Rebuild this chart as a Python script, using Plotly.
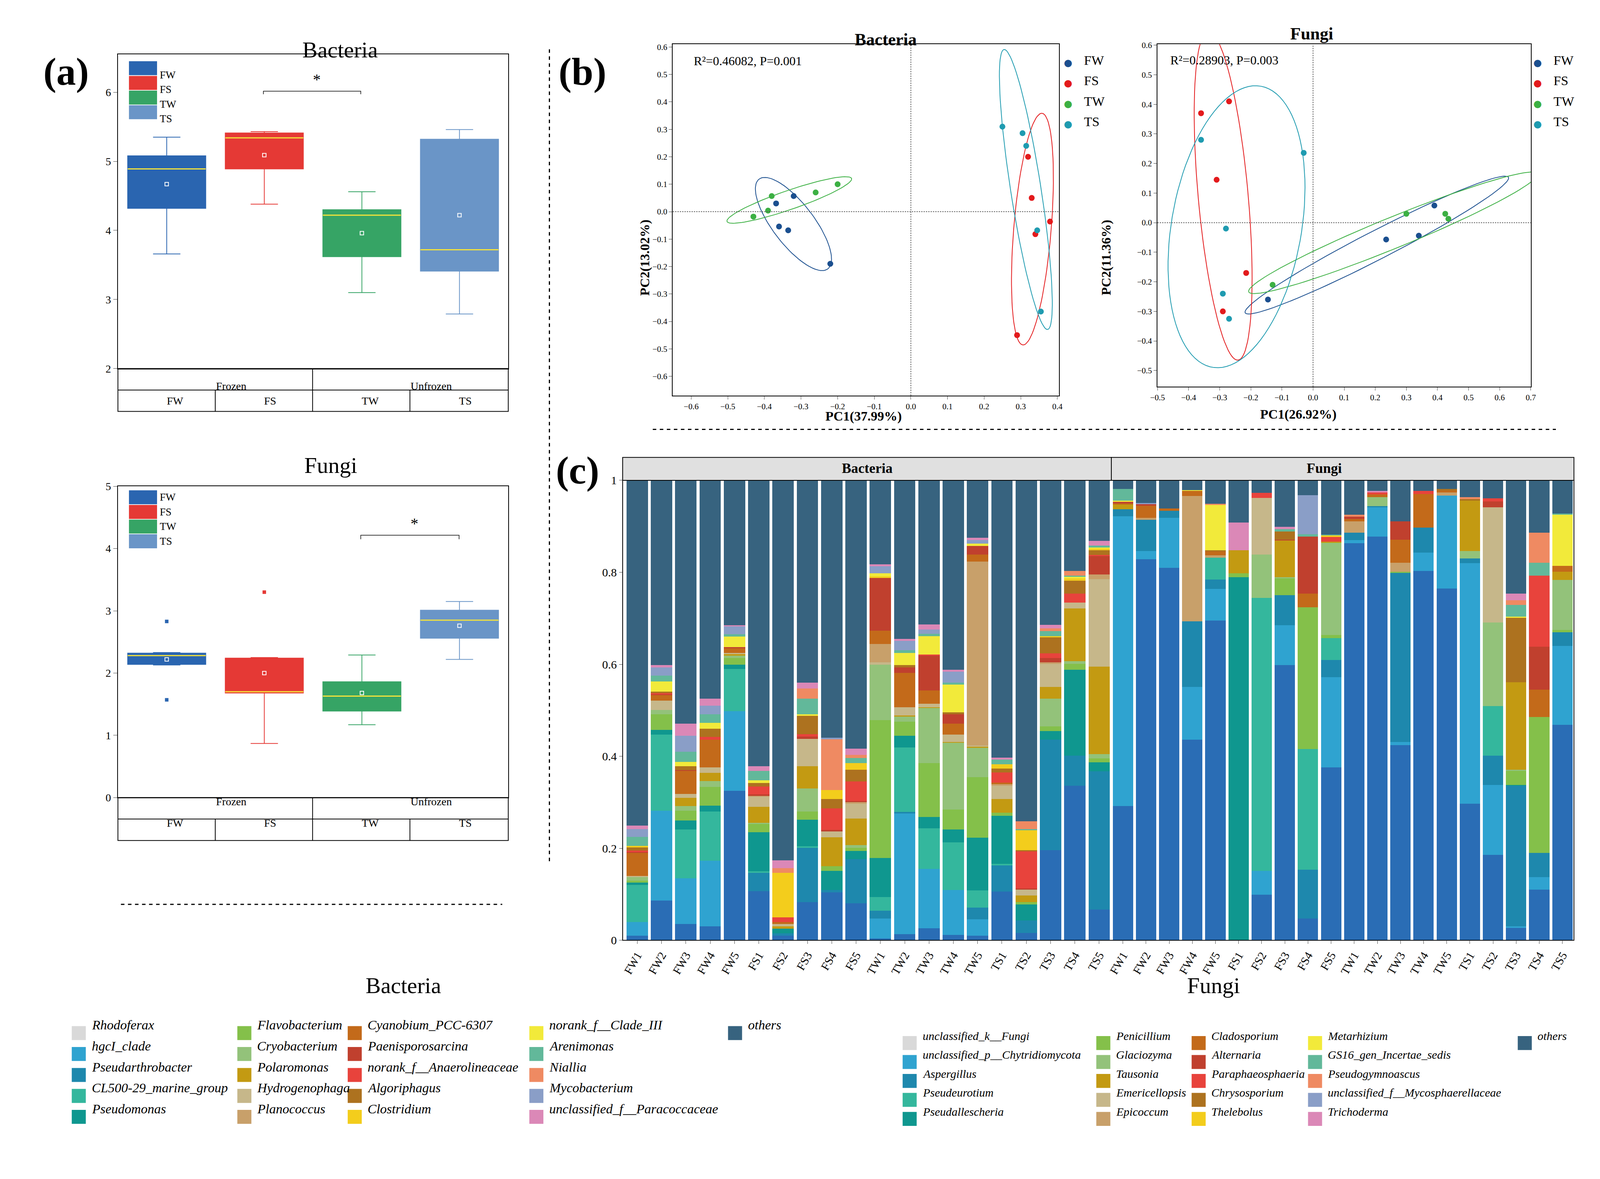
import numpy as np
import plotly.graph_objects as go

W, H = 4060, 2920
def px(x): return x / 1568
def py(y): return 1 - y / 1130

groups = ["FW", "FS", "TW", "TS"]
group_colors = ["#2a65b0", "#e53935", "#36a465", "#6a95c7"]

# ---- (a) alpha diversity boxes (stats)
bac_q1 = [4.32, 4.89, 3.62, 3.41]
bac_med = [4.89, 5.34, 4.22, 3.72]
bac_q3 = [5.08, 5.41, 4.30, 5.32]
bac_lo = [3.66, 4.38, 3.10, 2.79]
bac_hi = [5.35, 5.43, 4.56, 5.46]
bac_mean = [4.67, 5.09, 3.96, 4.22]

fun_q1 = [2.14, 1.68, 1.39, 2.56]
fun_med = [2.28, 1.70, 1.63, 2.85]
fun_q3 = [2.32, 2.24, 1.86, 3.01]
fun_lo = [2.13, 0.87, 1.17, 2.22]
fun_hi = [2.33, 2.25, 2.29, 3.15]
fun_mean = [2.22, 2.00, 1.68, 2.76]
fun_out_x = [0, 0, 1]
fun_out_y = [2.83, 1.57, 3.30]

# ---- (b) PCoA scores
pb = {
    "FW": ([-0.368, -0.32, -0.36, -0.335, -0.22], [0.03, 0.057, -0.054, -0.068, -0.19]),
    "FS": ([0.32, 0.33, 0.38, 0.34, 0.29], [0.20, 0.05, -0.036, -0.082, -0.45]),
    "TW": ([-0.43, -0.39, -0.38, -0.26, -0.20], [-0.018, 0.004, 0.057, 0.07, 0.10]),
    "TS": ([0.25, 0.305, 0.315, 0.345, 0.355], [0.31, 0.286, 0.24, -0.068, -0.364]),
}
pf = {
    "FW": ([0.39, 0.34, 0.235, -0.145], [0.058, -0.044, -0.057, -0.26]),
    "FS": ([-0.36, -0.27, -0.31, -0.215, -0.29], [0.37, 0.41, 0.145, -0.17, -0.30]),
    "TW": ([0.30, 0.425, 0.435, -0.13], [0.03, 0.03, 0.013, -0.21]),
    "TS": ([-0.36, -0.03, -0.28, -0.29, -0.27], [0.28, 0.236, -0.02, -0.24, -0.325]),
}
pcoa_colors = ["#1b4f8f", "#e31a1c", "#3cb043", "#1f9bb0"]

# ---- (c) community composition
samples = ["FW1", "FW2", "FW3", "FW4", "FW5", "FS1", "FS2", "FS3", "FS4", "FS5",
           "TW1", "TW2", "TW3", "TW4", "TW5", "TS1", "TS2", "TS3", "TS4", "TS5"]

bac_taxa = ["Rhodoferax", "hgcI_clade", "Pseudarthrobacter", "CL500-29_marine_group", "Pseudomonas",
            "Flavobacterium", "Cryobacterium", "Polaromonas", "Hydrogenophaga", "Planococcus",
            "Cyanobium_PCC-6307", "Paenisporosarcina", "norank_f__Anaerolineaceae", "Algoriphagus", "Clostridium",
            "norank_f__Clade_III", "Arenimonas", "Niallia", "Mycobacterium", "unclassified_f__Paracoccaceae"]
bac_vals = [
    [.01, .086, .035, .03, .325, .107, .01, .083, .104, .08, .004, .013, .026, .012, .01, .106, .016, .196, .336, .067],
    [.03, .196, .10, .143, .173, 0, 0, 0, 0, 0, .043, .263, .129, .097, .036, 0, 0, 0, 0, 0],
    [0, 0, 0, 0, 0, .04, .005, .118, .005, .096, .017, .003, 0, 0, .025, .057, .027, .24, .065, .30],
    [.08, .165, .106, .107, .092, .003, 0, .003, 0, 0, .03, .14, .088, .104, .037, .003, 0, 0, 0, 0],
    [.005, .01, .019, .013, .009, .085, .01, .058, .042, .018, .085, .026, .025, .028, .115, .105, .035, .019, .187, .02],
    [.005, .034, .022, .04, .015, .018, 0, .018, .01, .007, .30, .03, .117, .043, .132, .006, .005, .01, .013, .008],
    [.007, .01, .01, .013, .005, .002, 0, .05, 0, .006, .12, .011, .12, .145, .063, 0, 0, .06, .006, .01],
    [0, 0, .018, .018, .003, .035, .005, .048, .063, .058, 0, .003, .002, .002, .003, .03, .014, .026, .114, .19],
    [.003, .02, .008, .012, .003, .022, .005, .06, .013, .032, .005, .018, .007, .016, .002, .029, .013, .05, .013, .19],
    [0, 0, 0, 0, 0, .002, 0, 0, 0, .003, .04, 0, 0, 0, .40, .003, 0, .003, 0, .01],
    [.05, .012, .05, .06, .01, 0, .005, 0, 0, 0, .029, .074, .029, .024, .016, .004, 0, 0, 0, 0],
    [.002, .002, .002, 0, .002, .003, 0, .005, .003, .003, .115, .012, .076, .02, .018, 0, .003, .01, 0, .04],
    [.003, .002, 0, .006, 0, .017, .01, .005, .047, .042, 0, 0, .002, 0, 0, .022, .08, .01, .02, .003],
    [.007, .004, .008, .018, 0, .008, 0, .04, .02, .026, 0, .005, 0, .005, 0, .008, .003, .035, .028, .01],
    [.003, 0, 0, 0, 0, 0, .097, 0, .02, .014, .003, 0, 0, 0, 0, .01, .043, .002, .005, .003],
    [0, .022, .01, .013, .023, .006, 0, .003, 0, 0, .007, .027, .04, .06, .005, 0, 0, 0, .003, .003],
    [.02, .012, .022, .018, .005, .02, 0, .034, 0, .011, 0, .006, .005, .004, 0, .01, .003, .011, .003, .004],
    [0, 0, 0, 0, 0, 0, .01, .022, .11, .007, 0, 0, 0, 0, 0, 0, .017, .006, .01, 0],
    [.017, .018, .035, .019, .017, 0, 0, 0, .003, 0, .015, .02, .01, .024, .008, 0, 0, 0, 0, 0],
    [.007, .005, .026, .015, .003, .01, .017, .013, 0, .014, .004, .004, .011, .004, .005, .004, 0, .008, 0, .01],
]

fun_taxa = ["unclassified_k__Fungi", "unclassified_p__Chytridiomycota", "Aspergillus", "Pseudeurotium", "Pseudallescheria",
            "Penicillium", "Glaciozyma", "Tausonia", "Emericellopsis", "Epicoccum",
            "Cladosporium", "Alternaria", "Paraphaeosphaeria", "Chrysosporium", "Thelebolus",
            "Metarhizium", "GS16_gen_Incertae_sedis", "Pseudogymnoascus", "unclassified_f__Mycosphaerellaceae", "Trichoderma"]
fun_vals = [
    [.292, .828, .81, .436, .695, 0, .099, .598, .047, .376, .863, .878, .424, .803, .765, .297, .186, .027, .11, .468],
    [.63, .018, .108, .115, .069, 0, .052, .087, 0, .196, .007, .063, .007, .04, .202, .523, .152, .003, .027, .172],
    [.015, .068, .016, .142, .02, 0, 0, .065, .106, .037, .016, .003, .368, .054, 0, .01, .063, .306, .053, .03],
    [0, 0, 0, 0, .048, 0, .593, 0, .263, .048, 0, 0, 0, 0, 0, 0, .108, 0, 0, 0],
    [0, 0, 0, 0, 0, .789, 0, 0, 0, 0, 0, 0, 0, 0, 0, 0, 0, .002, 0, 0],
    [0, 0, 0, 0, 0, .009, 0, .037, .308, .007, 0, 0, .002, 0, 0, 0, 0, .03, .295, .005],
    [0, 0, 0, 0, 0, 0, .095, .002, 0, .20, 0, .019, 0, 0, 0, .016, .182, .003, 0, .108],
    [.01, 0, 0, 0, 0, .05, 0, .08, 0, .003, 0, 0, 0, 0, 0, .11, 0, .19, 0, .018],
    [0, 0, 0, 0, 0, 0, .123, 0, 0, 0, 0, 0, 0, 0, 0, 0, .25, 0, 0, 0],
    [0, .004, 0, .273, .005, 0, 0, 0, 0, 0, .025, 0, .02, 0, .007, 0, 0, 0, 0, 0],
    [.003, .027, .005, .011, .008, 0, 0, 0, .03, 0, .005, .006, .05, .073, .004, 0, 0, 0, .06, .013],
    [.003, .003, 0, 0, 0, 0, 0, .002, .124, 0, .005, 0, .04, 0, 0, 0, .013, 0, .093, 0],
    [0, 0, 0, 0, 0, 0, .011, 0, 0, .01, 0, .005, 0, .007, 0, 0, .007, 0, .155, 0],
    [0, 0, 0, 0, .003, 0, 0, .018, 0, 0, 0, 0, 0, 0, .003, .003, 0, .14, 0, 0],
    [0, 0, 0, 0, 0, 0, 0, 0, 0, .003, 0, 0, 0, 0, 0, 0, 0, 0, 0, 0],
    [.003, 0, 0, .002, .098, 0, 0, 0, 0, 0, 0, 0, 0, 0, 0, 0, 0, .003, 0, .111],
    [.025, 0, 0, 0, 0, 0, 0, .005, .005, .002, 0, 0, 0, 0, 0, 0, 0, .025, .028, .003],
    [0, 0, 0, 0, .003, 0, 0, 0, 0, 0, .004, 0, 0, 0, 0, .004, 0, .01, .065, 0],
    [0, .003, 0, 0, 0, 0, 0, 0, .085, 0, 0, 0, 0, 0, 0, 0, 0, 0, 0, 0],
    [0, 0, 0, 0, 0, .06, 0, .005, 0, 0, 0, .003, 0, 0, 0, 0, 0, .015, 0, 0],
]

taxa_colors = ["#2a6db5", "#2fa3d0", "#1e88ad", "#34b79d", "#0f978f",
               "#84c04a", "#93c27a", "#c39a12", "#c6b78a", "#c8a06a",
               "#c36a1a", "#c0402e", "#e8433c", "#ad721f", "#f3cd1c",
               "#f2ea3a", "#62b89a", "#ef8a62", "#8a9ec7", "#db88b7"]
legend_colors = ["#d9d9d9"] + taxa_colors[1:]
others_color = "#37637f"

FONT = "Liberation Serif"
fig = go.Figure()
shapes, ann = [], []

# ---------- (a) boxes
def add_boxes(xa, ya, q1, med, q3, lo, hi, mean):
    for i, g in enumerate(groups):
        fig.add_trace(go.Box(x=[i], q1=[q1[i]], median=[med[i]], q3=[q3[i]], lowerfence=[lo[i]],
                             upperfence=[hi[i]], width=0.8, whiskerwidth=0.35, fillcolor=group_colors[i],
                             line=dict(color=group_colors[i], width=2), xaxis=xa, yaxis=ya, showlegend=False))
        fig.add_trace(go.Scatter(x=[i - 0.4, i + 0.4], y=[med[i], med[i]], mode="lines",
                                 line=dict(color="#f5e33a", width=3), xaxis=xa, yaxis=ya, showlegend=False))
        fig.add_trace(go.Scatter(x=[i], y=[mean[i]], mode="markers",
                                 marker=dict(symbol="square-open", size=9, color="white", line=dict(width=2)),
                                 xaxis=xa, yaxis=ya, showlegend=False))

add_boxes("x", "y", bac_q1, bac_med, bac_q3, bac_lo, bac_hi, bac_mean)
add_boxes("x2", "y2", fun_q1, fun_med, fun_q3, fun_lo, fun_hi, fun_mean)
fig.add_trace(go.Scatter(x=fun_out_x, y=fun_out_y, mode="markers",
                         marker=dict(symbol="square", size=9, color=[group_colors[i] for i in fun_out_x]),
                         xaxis="x2", yaxis="y2", showlegend=False))

box_ax = dict(range=[-0.5, 3.5], showticklabels=False, ticks="", showline=True, mirror=True,
              linecolor="black", linewidth=2, showgrid=False, zeroline=False)
yax = dict(showline=True, mirror=True, linecolor="black", linewidth=2, ticks="outside", showgrid=False,
           zeroline=False, tickfont=dict(size=28), ticklen=10)

# tables under box plots + legends inside
for top, bot in [(360, 403), (790, 833)]:
    mid = (top + bot) / 2
    shapes.append(dict(type="rect", xref="paper", yref="paper", x0=px(107), x1=px(496), y0=py(bot), y1=py(top),
                       line=dict(color="black", width=2)))
    shapes.append(dict(type="line", xref="paper", yref="paper", x0=px(107), x1=px(496), y0=py(mid), y1=py(mid),
                       line=dict(color="black", width=2)))
    shapes.append(dict(type="line", xref="paper", yref="paper", x0=px(301), x1=px(301), y0=py(bot), y1=py(top),
                       line=dict(color="black", width=2)))
    for xv in (204, 398):
        shapes.append(dict(type="line", xref="paper", yref="paper", x0=px(xv), x1=px(xv), y0=py(bot), y1=py(mid),
                           line=dict(color="black", width=2)))
    for t, xv in (("Frozen", 204), ("Unfrozen", 398)):
        ann.append(dict(text=t, x=px(xv), y=py((top + mid) / 2), xref="paper", yref="paper", showarrow=False,
                        font=dict(size=28)))
    for i, g in enumerate(groups):
        ann.append(dict(text=g, x=px(155 + 97 * i), y=py((mid + bot) / 2), xref="paper", yref="paper",
                        showarrow=False, font=dict(size=28)))
for y0 in (52, 482):
    for i, g in enumerate(groups):
        yy = y0 + 7 + 14.7 * i
        shapes.append(dict(type="rect", xref="paper", yref="paper", x0=px(118), x1=px(146), y0=py(yy + 7),
                           y1=py(yy - 7), fillcolor=group_colors[i], line=dict(width=0)))
        ann.append(dict(text=g, x=px(148), y=py(yy), xref="paper", yref="paper", xanchor="left", showarrow=False,
                        font=dict(size=27)))
# significance brackets
for x0, x1, yb, yt in ((252, 349, 85, 82), (349, 447, 531, 527)):
    shapes.append(dict(type="path", xref="paper", yref="paper",
                       path=f"M {px(x0)} {py(yb)} L {px(x0)} {py(yt)} L {px(x1)} {py(yt)} L {px(x1)} {py(yb)}",
                       line=dict(color="black", width=1.5)))
    ann.append(dict(text="*", x=px((x0 + x1) / 2), y=py(yt - 2), xref="paper", yref="paper", yanchor="bottom",
                    showarrow=False, font=dict(size=40)))

# ---------- (b) PCoA
def ellipse(x, y, n=100, k=1.75):
    x, y = np.asarray(x), np.asarray(y)
    cov = np.cov(x, y)
    vals, vecs = np.linalg.eigh(cov)
    t = np.linspace(0, 2 * np.pi, n)
    pts = vecs @ (k * np.sqrt(vals)[:, None] * np.vstack([np.cos(t), np.sin(t)]))
    return pts[0] + x.mean(), pts[1] + y.mean()

for data, xa, ya in ((pb, "x3", "y3"), (pf, "x4", "y4")):
    for i, g in enumerate(groups):
        ex, ey = ellipse(*data[g])
        fig.add_trace(go.Scatter(x=ex, y=ey, mode="lines", line=dict(color=pcoa_colors[i], width=2),
                                 xaxis=xa, yaxis=ya, showlegend=False))
        fig.add_trace(go.Scatter(x=data[g][0], y=data[g][1], mode="markers",
                                 marker=dict(size=15, color=pcoa_colors[i]), xaxis=xa, yaxis=ya, showlegend=False))
    shapes.append(dict(type="line", xref=xa, yref=ya + " domain", x0=0, x1=0, y0=0, y1=1,
                       line=dict(color="#555", width=2, dash="dot")))
    shapes.append(dict(type="line", xref=xa + " domain", yref=ya, x0=0, x1=1, y0=0, y1=0,
                       line=dict(color="#555", width=2, dash="dot")))

for xl in (1060, 1528):
    for i, g in enumerate(groups):
        yy = 43 + 20.5 * i
        ann.append(dict(text="●", x=px(xl), y=py(yy), xref="paper", yref="paper", showarrow=False,
                        font=dict(size=44, color=pcoa_colors[i])))
        ann.append(dict(text=g, x=px(xl + 9), y=py(yy), xref="paper", yref="paper", xanchor="left",
                        showarrow=False, font=dict(size=34)))
ann.append(dict(text="R²=0.46082, P=0.001", x=px(680), y=py(44), xref="paper", yref="paper", xanchor="left",
                showarrow=False, font=dict(size=32)))
ann.append(dict(text="R²=0.28903, P=0.003", x=px(1155), y=py(43), xref="paper", yref="paper", xanchor="left",
                showarrow=False, font=dict(size=32)))

pc_ax = dict(showline=True, mirror=True, linecolor="black", linewidth=2, ticks="outside", showgrid=False,
             zeroline=False, tickfont=dict(size=21), dtick=0.1, ticklen=8, tickformat=".1f")

# ---------- (c) stacked bars
for vals, taxa, xa in ((bac_vals, bac_taxa, "x5"), (fun_vals, fun_taxa, "x6")):
    arr = np.array(vals)
    for j, name in enumerate(taxa):
        fig.add_trace(go.Bar(x=samples, y=arr[j], name=name, marker=dict(color=taxa_colors[j], line=dict(width=0)),
                             xaxis=xa, yaxis="y5", showlegend=False))
    fig.add_trace(go.Bar(x=samples, y=1 - arr.sum(axis=0), name="others",
                         marker=dict(color=others_color, line=dict(width=0)), xaxis=xa, yaxis="y5",
                         showlegend=False))

for x0, x1, t in ((610, 1097, "Bacteria"), (1097, 1558, "Fungi")):
    shapes.append(dict(type="rect", xref="paper", yref="paper", x0=px(x0), x1=px(x1), y0=py(472), y1=py(449),
                       fillcolor="#e0e0e0", line=dict(color="black", width=2)))
    ann.append(dict(text=f"<b>{t}</b>", x=px((x0 + x1) / 2), y=py(460), xref="paper", yref="paper",
                    showarrow=False, font=dict(size=36)))
shapes.append(dict(type="rect", xref="paper", yref="paper", x0=px(610), x1=px(1558), y0=py(933), y1=py(472),
                   line=dict(color="black", width=2)))

# taxa legends
ann.append(dict(text="Bacteria", x=px(353), y=py(992), xref="paper", yref="paper", showarrow=False,
                font=dict(size=58)))
ann.append(dict(text="Fungi", x=px(1226), y=py(992), xref="paper", yref="paper", showarrow=False,
                font=dict(size=58)))
def taxa_legend(names, colx, rowy, size):
    items = list(zip(names + ["others"], legend_colors + [others_color]))
    for i, (nm, c) in enumerate(items):
        col, row = i // 5, i % 5
        x, y = colx[col], rowy[row]
        shapes.append(dict(type="rect", xref="paper", yref="paper", x0=px(x - 7), x1=px(x + 7), y0=py(y + 7),
                           y1=py(y - 7), fillcolor=c, line=dict(width=0)))
        ann.append(dict(text=f"<i>{nm}</i>", x=px(x + 12), y=py(y), xref="paper", yref="paper", xanchor="left",
                        showarrow=False, font=dict(size=size)))
taxa_legend(bac_taxa, [68, 233, 343, 524, 722], [1026, 1047, 1068, 1089, 1110], 34)
taxa_legend(fun_taxa, [896, 1089, 1184, 1300, 1509], [1036, 1055, 1074, 1093, 1112], 30)

# panel labels, titles, dashed separators
for t, x, y in (("(a)", 32, 40), ("(b)", 570, 40), ("(c)", 565, 462)):
    ann.append(dict(text=f"<b>{t}</b>", x=px(x), y=py(y), xref="paper", yref="paper", showarrow=False,
                    font=dict(size=100)))
for t, x, y, s in (("Bacteria", 290, 27, 58), ("Fungi", 292, 457, 58),
                   ("<b>Bacteria</b>", 872, 20, 44), ("<b>Fungi</b>", 1319, 14, 44),
                   ("<b>PC1(37.99%)</b>", 850, 408, 34), ("<b>PC1(26.92%)</b>", 1322, 406, 34)):
    ann.append(dict(text=t, x=px(x), y=py(y), xref="paper", yref="paper", showarrow=False, font=dict(size=s)))
for t, x in (("<b>PC2(13.02%)</b>", 632), ("<b>PC2(11.36%)</b>", 1100)):
    ann.append(dict(text=t, x=px(x), y=py(210), xref="paper", yref="paper", showarrow=False, textangle=-90,
                    font=dict(size=34)))
dash = dict(color="black", width=3, dash="dash")
shapes += [
    dict(type="line", xref="paper", yref="paper", x0=px(537), x1=px(537), y0=py(40), y1=py(855), line=dash),
    dict(type="line", xref="paper", yref="paper", x0=px(110), x1=px(490), y0=py(897), y1=py(897), line=dash),
    dict(type="line", xref="paper", yref="paper", x0=px(640), x1=px(1540), y0=py(421), y1=py(421), line=dash),
]

bar_x = dict(showline=False, ticks="outside", tickangle=-60, tickfont=dict(size=30), showgrid=False, ticklen=8)
fig.update_layout(
    width=W, height=H, paper_bgcolor="white", plot_bgcolor="white",
    font=dict(family=FONT, color="black", size=28),
    margin=dict(l=0, r=0, t=0, b=0), barmode="stack", bargap=0.12,
    xaxis=dict(domain=[px(107), px(496)], anchor="y", **box_ax),
    yaxis=dict(domain=[py(360), py(45)], anchor="x", range=[2, 6.55], dtick=1, **yax),
    xaxis2=dict(domain=[px(107), px(496)], anchor="y2", **box_ax),
    yaxis2=dict(domain=[py(790), py(478)], anchor="x2", range=[0, 5], dtick=1, **yax),
    xaxis3=dict(domain=[px(660), px(1045)], anchor="y3", range=[-0.65, 0.405], **pc_ax),
    yaxis3=dict(domain=[py(387), py(35)], anchor="x3", range=[-0.67, 0.61], **pc_ax),
    xaxis4=dict(domain=[px(1143), px(1515)], anchor="y4", range=[-0.5, 0.7], **pc_ax),
    yaxis4=dict(domain=[py(378), py(35)], anchor="x4", range=[-0.554, 0.603], **pc_ax),
    xaxis5=dict(domain=[px(610), px(1097)], anchor="y5", range=[-0.6, 19.5], **bar_x),
    xaxis6=dict(domain=[px(1097), px(1558)], anchor="y5", range=[-0.5, 19.5], **bar_x),
    yaxis5=dict(domain=[py(933), py(472)], anchor="x5", range=[0, 1], ticks="outside",
                showgrid=False, zeroline=False, tickfont=dict(size=30), ticklen=8,
                tickvals=[0, 0.2, 0.4, 0.6, 0.8, 1], ticktext=["0", "0.2", "0.4", "0.6", "0.8", "1"]),
    shapes=shapes, annotations=ann,
)

fig.write_html("out.html")
